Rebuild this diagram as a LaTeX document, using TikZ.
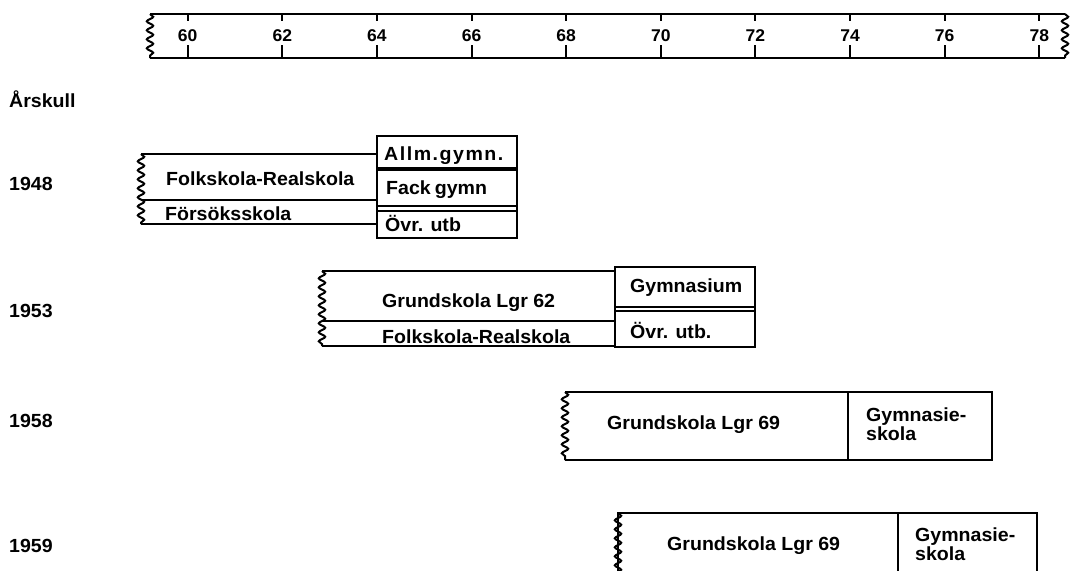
\documentclass[tikz,border=0pt]{standalone}
\usepackage{fontspec}
\setmainfont{Liberation Sans}[FakeStretch=1.03]
\usetikzlibrary{decorations.pathmorphing}
\tikzset{
  bx/.style={line width=2pt},
  thickbar/.style={line width=4.5pt},
  wav/.style={line width=2pt, decorate, decoration={snake, segment length=9pt, amplitude=3.2pt}},
  lbl/.style={font=\bfseries\fontsize{19}{19}\selectfont, inner sep=0pt, anchor=base west},
  twol/.style={font=\bfseries\fontsize{19}{19}\selectfont, inner sep=0pt, anchor=north west, align=left},
  yr/.style={font=\bfseries\fontsize{19}{19}\selectfont, inner sep=0pt, anchor=base west},
  num/.style={font=\bfseries\fontsize{17}{17}\selectfont, inner sep=0pt, anchor=base},
}
\begin{document}
\begin{tikzpicture}[x=1pt,y=-1pt]
\useasboundingbox (0,0) rectangle (1070,570);
\begin{scope}
\clip (0,0) rectangle (1070,570);
% ---------- time axis ----------
\coordinate (axTL) at (150,14);
\coordinate (axBL) at (150,58);
\coordinate (axTR) at (1065,14);
\coordinate (axBR) at (1065,58);
\draw[bx] (axTL) -- (axTR);
\draw[bx] (axBL) -- (axBR);
\draw[wav] (axTL) -- (axBL);
\draw[wav] (axTR) -- (axBR);
\foreach \yy in {60,62,...,78}{
  \pgfmathsetmacro{\xx}{187.7+(\yy-60)*47.31}
  \coordinate (t\yy) at (\xx,14);
  \coordinate (b\yy) at (\xx,58);
  \draw[bx] (t\yy) -- ++(0,7);
  \draw[bx] (b\yy) -- ++(0,-13);
  \node[num] (n\yy) at (\xx,41) {\yy};
}
% ---------- left labels ----------
\node[yr] (ars) at (9,107) {Årskull};
\node[yr] (y48) at (9,190) {1948};
\node[yr] (y53) at (9,317) {1953};
\node[yr] (y58) at (9,427) {1958};
\node[yr] (y59) at (9,552) {1959};
% ---------- 1948 ----------
\draw[bx] (377,154) -- (141,154);
\draw[wav] (141,154) -- (141,224);
\draw[bx] (141,224) -- (377,224);
\draw[bx] (141,200) -- (377,200);
\draw[bx] (377,136) rectangle (517,238);
\draw[thickbar] (377,169) -- (517,169);
\draw[bx] (377,206) -- (517,206);
\draw[bx] (377,211) -- (517,211);
\node[lbl] (fr48) at (166,185) {Folkskola-Realskola};
\node[lbl] (fs48) at (165,220) {Försöksskola};
\node[lbl] (ag48) at (384,160) {\addfontfeature{LetterSpace=8}Allm.gymn.};
\node[lbl] (fg48) at (386,194) {Fack\kern4pt gymn};
\node[lbl] (ou48) at (385,231) {Övr. utb};
% ---------- 1953 ----------
\draw[bx] (615,271) -- (322,271);
\draw[wav] (322,271) -- (322,346);
\draw[bx] (322,346) -- (615,346);
\draw[bx] (322,321) -- (615,321);
\draw[bx] (615,267) rectangle (755,347);
\draw[bx] (615,306.5) -- (755,306.5);
\draw[bx] (615,311) -- (755,311);
\node[lbl] (gr53) at (382,307) {Grundskola Lgr 62};
\node[lbl] (fr53) at (382,343) {Folkskola-Realskola};
\node[lbl] (gy53) at (630,292) {Gymnasium};
\node[lbl] (ou53) at (630,338) {Övr. utb.};
% ---------- 1958 ----------
\draw[bx] (565,392) -- (992,392) -- (992,460) -- (565,460);
\draw[wav] (565,392) -- (565,460);
\draw[bx] (848,392) -- (848,460);
\node[lbl] (gr58) at (607,429) {Grundskola Lgr 69};
\node[twol] (gs58) at (866,408) {Gymnasie-\\skola};
% ---------- 1959 ----------
\draw[bx] (618,600) -- (618,513) -- (1037,513) -- (1037,600);
\draw[wav] (618,513) -- (618,576);
\draw[bx] (898,513) -- (898,600);
\node[lbl] (gr59) at (667,550) {Grundskola Lgr 69};
\node[twol] (gs59) at (915,528) {Gymnasie-\\skola};
\end{scope}
\end{tikzpicture}
\end{document}
